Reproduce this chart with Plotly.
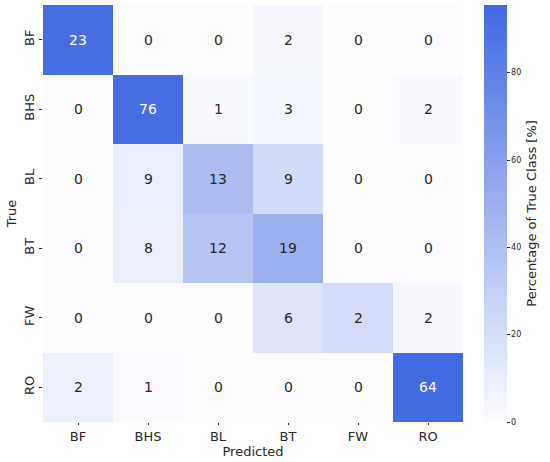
import plotly.graph_objects as go

classes = ['BF', 'BHS', 'BL', 'BT', 'FW', 'RO']

# counts shown in the cells
counts = [
    [23, 0, 0, 2, 0, 0],
    [0, 76, 1, 3, 0, 2],
    [0, 9, 13, 9, 0, 0],
    [0, 8, 12, 19, 0, 0],
    [0, 0, 0, 6, 2, 2],
    [2, 1, 0, 0, 0, 64],
]

# cell colour values (percentage of true class), read from the shading
pct = [
    [93, 0, 0, 3, 0, 0],
    [0, 93, 2, 4, 0, 2],
    [0, 10, 41, 22, 0, 0],
    [0, 9, 36, 50, 0, 0],
    [0, 0, 0, 16, 21, 3],
    [8, 1, 0, 0, 0, 95],
]

fnt = 'DejaVu Sans'
dark = '#262626'

fig = go.Figure()
fig.add_trace(go.Heatmap(
    z=pct, x=classes, y=classes,
    zmin=0, zmax=95.5,
    colorscale=[[0, '#fdfdff'], [1, '#4169e1']],
    hoverinfo='skip',
    colorbar=dict(
        thickness=23, len=1, lenmode='fraction', y=0.5, yanchor='middle',
        x=1.05, xanchor='left', outlinewidth=0, xpad=0, ypad=0,
        tickvals=[0, 20, 40, 60, 80], ticks='outside', ticklen=3, tickcolor=dark,
        tickfont=dict(family=fnt, size=8, color=dark),
    ),
))

for i, row in enumerate(counts):
    for j, v in enumerate(row):
        fig.add_annotation(
            x=classes[j], y=classes[i], text=str(v), showarrow=False,
            font=dict(family=fnt, size=14, color='white' if pct[i][j] > 60 else dark),
        )

# colourbar label
fig.add_annotation(
    text='Percentage of True Class [%]', xref='paper', yref='paper',
    x=1.185, y=0.5, textangle=-90, showarrow=False,
    font=dict(family=fnt, size=13, color=dark),
)

fig.update_xaxes(
    title=dict(text='Predicted', font=dict(family=fnt, size=13, color=dark), standoff=0),
    tickfont=dict(family=fnt, size=13, color=dark), automargin=False,
    ticks='outside', ticklen=2, tickcolor=dark, showgrid=False, zeroline=False,
)
fig.update_yaxes(
    title=dict(text='True', font=dict(family=fnt, size=13, color=dark), standoff=2),
    tickfont=dict(family=fnt, size=13, color=dark), tickangle=-90, automargin=False,
    ticks='outside', ticklen=3, tickcolor=dark, showgrid=False, zeroline=False,
    autorange='reversed',
)
fig.update_layout(
    width=550, height=462,
    margin=dict(l=43, r=87, t=5, b=40),
    paper_bgcolor='white', plot_bgcolor='white',
    font=dict(family=fnt, color=dark),
)
fig.write_html('out.html', config={'displayModeBar': False},
               post_script="document.body.style.margin='0';")
